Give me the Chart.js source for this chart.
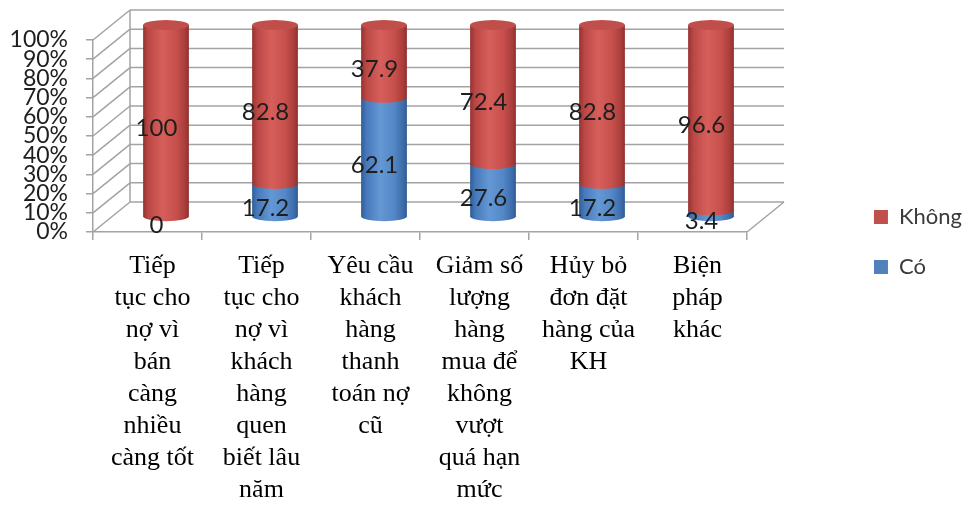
<!DOCTYPE html>
<html lang="vi">
<head>
  <meta charset="UTF-8" />
  <title>Biện pháp xử lý nợ quá hạn</title>
  <script src="https://cdn.jsdelivr.net/npm/chart.js"></script>
  <style>
    html, body {
      margin: 0;
      padding: 0;
      background: #ffffff;
    }
    #chart {
      display: block;
    }
  </style>
</head>
<body>
  <canvas id="chart" width="972" height="505"></canvas>

  <script>
    // categories, one entry per cylinder (line breaks kept as in the layout)
    const categories = [
      ['Tiếp', 'tục cho', 'nợ vì', 'bán', 'càng', 'nhiều', 'càng tốt'],
      ['Tiếp', 'tục cho', 'nợ vì', 'khách', 'hàng', 'quen', 'biết lâu', 'năm'],
      ['Yêu cầu', 'khách', 'hàng', 'thanh', 'toán nợ', 'cũ'],
      ['Giảm số', 'lượng', 'hàng', 'mua để', 'không', 'vượt', 'quá hạn', 'mức'],
      ['Hủy bỏ', 'đơn đặt', 'hàng của', 'KH'],
      ['Biện', 'pháp', 'khác']
    ];
    const coValues = [0, 17.2, 62.1, 27.6, 17.2, 3.4];
    const khongValues = [100, 82.8, 37.9, 72.4, 82.8, 96.6];
    const yTickValues = [0, 10, 20, 30, 40, 50, 60, 70, 80, 90, 100];

    // depth of the fake 3D box (front plane -> back wall)
    const DX = 37, DY = -30;
    const LINE = '#a3a3a3';

    const palettes = {
      'Có': {
        body: [[0, '#305d96'], [0.12, '#4779bb'], [0.42, '#6498d4'], [0.72, '#5487c6'], [0.93, '#3b6aa8'], [1, '#2e5890']],
        cap: '#4f81bd'
      },
      'Không': {
        body: [[0, '#963330'], [0.12, '#bb4845'], [0.42, '#d75f5b'], [0.72, '#c8504c'], [0.93, '#a63c39'], [1, '#8d2f2d']],
        cap: '#c04f4b'
      }
    };

    function line(ctx, x1, y1, x2, y2) {
      ctx.beginPath();
      ctx.moveTo(x1, y1);
      ctx.lineTo(x2, y2);
      ctx.stroke();
    }

    // back wall, side wall and floor
    const wallPlugin = {
      id: 'walls',
      beforeDatasetsDraw(chart) {
        const { ctx, chartArea: a, scales: { y } } = chart;
        ctx.save();
        ctx.strokeStyle = LINE;
        ctx.lineWidth = 1.5;
        yTickValues.forEach(v => {
          const py = y.getPixelForValue(v);
          line(ctx, a.left, py, a.left + DX, py + DY);
          line(ctx, a.left + DX, py + DY, a.right + DX, py + DY);
        });
        line(ctx, a.left + DX, y.getPixelForValue(100) + DY, a.left + DX, y.getPixelForValue(0) + DY);
        const p0 = y.getPixelForValue(0);
        line(ctx, a.right, p0, a.right + DX, p0 + DY);
        ctx.restore();
      }
    };

    function cylinder(ctx, cx, top, bot, w, ry, pal, cap) {
      const l = cx - w / 2, r = cx + w / 2;
      const g = ctx.createLinearGradient(l, 0, r, 0);
      pal.body.forEach(s => g.addColorStop(s[0], s[1]));
      ctx.fillStyle = g;
      ctx.beginPath();
      ctx.moveTo(l, top);
      ctx.lineTo(l, bot);
      ctx.ellipse(cx, bot, w / 2, ry, 0, Math.PI, 0, true);
      ctx.lineTo(r, top);
      ctx.closePath();
      ctx.fill();
      if (cap) {
        ctx.fillStyle = pal.cap;
        ctx.beginPath();
        ctx.ellipse(cx, top, w / 2, ry, 0, 0, Math.PI * 2);
        ctx.fill();
      }
    }

    // bars are drawn as cylinders sitting half way into the box
    const cylinderPlugin = {
      id: 'cylinders',
      beforeDatasetDraw() {
        return false;
      },
      afterDatasetsDraw(chart) {
        const ctx = chart.ctx;
        const last = chart.data.datasets.length - 1;
        ctx.save();
        chart.data.datasets.forEach((ds, di) => {
          const meta = chart.getDatasetMeta(di);
          meta.data.forEach((el, i) => {
            if (ds.data[i] <= 0) return;
            const p = el.getProps(['x', 'y', 'base', 'width'], true);
            cylinder(ctx, p.x + DX / 2, p.y + DY / 2, p.base + DY / 2, p.width, 5,
              palettes[ds.label], di === last);
          });
        });
        // value labels
        ctx.fillStyle = '#1e1e1e';
        ctx.font = '24px Lato';
        ctx.textAlign = 'center';
        ctx.textBaseline = 'middle';
        chart.data.datasets.forEach((ds, di) => {
          chart.getDatasetMeta(di).data.forEach((el, i) => {
            const p = el.getProps(['x', 'y', 'base'], true);
            ctx.fillText(String(ds.data[i]), p.x + 9, (p.y + p.base) / 2 - 7);
          });
        });
        ctx.restore();
      }
    };

    new Chart(document.getElementById('chart'), {
      type: 'bar',
      data: {
        labels: categories,
        datasets: [
          { label: 'Có', data: coValues, backgroundColor: '#4f81bd' },
          { label: 'Không', data: khongValues, backgroundColor: '#c0504d' }
        ]
      },
      options: {
        responsive: false,
        animation: false,
        // negative top keeps the legend column centred a little above the middle
        layout: { padding: { top: -21, bottom: 0, left: 0, right: 0 } },
        datasets: {
          bar: { categoryPercentage: 1, barPercentage: 0.42 }
        },
        scales: {
          x: {
            stacked: true,
            offset: true,
            grid: { drawOnChartArea: false, offset: true, tickLength: 8, color: LINE, lineWidth: 1.5 },
            border: { color: LINE, width: 1.5 },
            ticks: {
              autoSkip: false,
              maxRotation: 0,
              minRotation: 0,
              padding: 10,
              labelOffset: 5,
              color: '#000000',
              font: { family: 'Liberation Serif', size: 26, lineHeight: 1.23 }
            },
            afterFit(s) { s.height = 273; }
          },
          // empty band above the plot for the back wall
          spacerTop: {
            position: 'top',
            grid: { display: false },
            border: { display: false },
            ticks: { display: false },
            afterFit(s) { s.height = 61; }
          },
          y: {
            stacked: true,
            min: 0,
            max: 100,
            afterBuildTicks(s) { s.ticks = yTickValues.map(v => ({ value: v })); },
            grid: { drawOnChartArea: false, tickLength: 7, color: LINE, lineWidth: 1.5 },
            border: { color: LINE, width: 1.5 },
            ticks: {
              autoSkip: false,
              padding: 18,
              color: '#1e1e1e',
              font: { family: 'Lato', size: 23 },
              callback: v => v + '%'
            },
            afterFit(s) { s.width = 93; }
          },
          // empty spacer that keeps the plot clear of the legend
          spacer: {
            position: 'right',
            grid: { display: false },
            border: { display: false },
            ticks: { display: false },
            afterFit(s) { s.width = 972 - 747 - s.chart.legend.width; }
          }
        },
        plugins: {
          legend: {
            position: 'right',
            reverse: true,
            labels: {
              boxWidth: 14,
              boxHeight: 14,
              padding: 28,
              color: '#3a3a3a',
              font: { family: 'Lato', size: 22 }
            }
          },
          tooltip: { enabled: false }
        }
      },
      plugins: [wallPlugin, cylinderPlugin]
    });
  </script>
</body>
</html>
